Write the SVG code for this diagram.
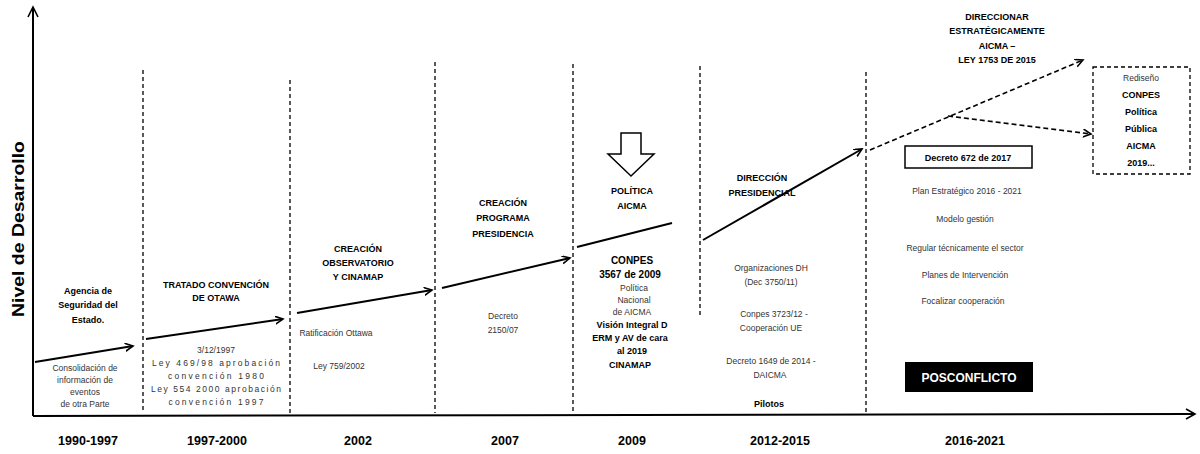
<svg xmlns="http://www.w3.org/2000/svg" width="1200" height="454" viewBox="0 0 1200 454">
<style>
.hd{font-family:"Liberation Sans",Arial,sans-serif;font-weight:bold;font-size:9px;fill:#000;text-anchor:middle}
.sm{font-family:"Liberation Sans",Arial,sans-serif;font-size:8.5px;fill:#333;text-anchor:middle}
.yr{font-family:"Liberation Sans",Arial,sans-serif;font-weight:bold;font-size:12.5px;fill:#000;text-anchor:middle}
.bd{font-family:"Liberation Sans",Arial,sans-serif;font-weight:bold;font-size:10px;fill:#000;text-anchor:middle}
.vd{stroke:#000;stroke-width:1.3;stroke-dasharray:4 3;fill:none}
.ar{stroke:#000;stroke-width:2;fill:none}
.da{stroke:#000;stroke-width:1.6;stroke-dasharray:5 3;fill:none}
</style>
<defs>
<marker id="ah" markerWidth="10" markerHeight="10" refX="8" refY="4" orient="auto" markerUnits="userSpaceOnUse">
<path d="M0,0 L8,4 L0,8" fill="none" stroke="#000" stroke-width="1.6"/>
</marker>
</defs>
<rect width="1200" height="454" fill="#fff"/>
<g id="axes">
<line x1="33" y1="416" x2="33" y2="8" stroke="#000" stroke-width="2"/>
<path d="M28,17 L33,7 L38,17" fill="none" stroke="#000" stroke-width="1.6"/>
<line x1="33" y1="416" x2="1194" y2="414" stroke="#000" stroke-width="2"/>
<path d="M1186,409 L1195,414 L1186,419" fill="none" stroke="#000" stroke-width="1.6"/>
<text transform="translate(24,229) rotate(-90)" font-family="Liberation Sans,Arial,sans-serif" font-weight="bold" font-size="16" text-anchor="middle" textLength="176" lengthAdjust="spacingAndGlyphs">Nivel de Desarrollo</text>
</g>
<g id="dividers">
<line class="vd" x1="143" y1="70" x2="143" y2="413"/>
<line class="vd" x1="290" y1="80" x2="290" y2="413"/>
<line class="vd" x1="435" y1="62" x2="435" y2="413"/>
<line class="vd" x1="573" y1="64" x2="573" y2="413"/>
<line class="vd" x1="700" y1="66" x2="700" y2="318"/>
<line class="vd" x1="866" y1="72" x2="866" y2="413"/>
</g>
<g id="years">
<text class="yr" x="88" y="445">1990-1997</text>
<text class="yr" x="217" y="445">1997-2000</text>
<text class="yr" x="358" y="445">2002</text>
<text class="yr" x="505" y="445">2007</text>
<text class="yr" x="632" y="445">2009</text>
<text class="yr" x="780" y="445">2012-2015</text>
<text class="yr" x="975" y="445">2016-2021</text>
</g>
<g id="connectors">
<line class="ar" x1="35" y1="362" x2="133" y2="346" marker-end="url(#ah)"/>
<line class="ar" x1="146" y1="339" x2="283" y2="319" marker-end="url(#ah)"/>
<line class="ar" x1="297" y1="313" x2="432" y2="290" marker-end="url(#ah)"/>
<line class="ar" x1="442" y1="288" x2="570" y2="258" marker-end="url(#ah)"/>
<line class="ar" x1="577" y1="247" x2="672" y2="223"/>
<line class="ar" x1="703" y1="240" x2="862" y2="149" marker-end="url(#ah)"/>
<line class="da" x1="870" y1="150" x2="1083" y2="60" marker-end="url(#ah)"/>
<line class="da" x1="948" y1="116" x2="1091" y2="134" marker-end="url(#ah)"/>
</g>
<g id="n1990">
<text class="hd" x="88" y="294">Agencia de</text>
<text class="hd" x="88" y="308">Seguridad del</text>
<text class="hd" x="88" y="323">Estado.</text>
<text class="sm" x="85" y="371">Consolidación de</text>
<text class="sm" x="85" y="383">información de</text>
<text class="sm" x="85" y="395">eventos</text>
<text class="sm" x="85" y="407">de otra Parte</text>
</g>
<g id="n1997">
<text class="hd" x="216" y="288">TRATADO CONVENCIÓN</text>
<text class="hd" x="216" y="301">DE OTAWA</text>
<text class="sm" x="216" y="353">3/12/1997</text>
<text class="sm" x="216" y="366" font-size="9.5" textLength="128" lengthAdjust="spacing">Ley 469/98 aprobación</text>
<text class="sm" x="216" y="379" font-size="9.5" textLength="96" lengthAdjust="spacing">convención 1980</text>
<text class="sm" x="216" y="392" font-size="9.5" textLength="130" lengthAdjust="spacing">Ley 554 2000 aprobación</text>
<text class="sm" x="216" y="405" font-size="9.5" textLength="95" lengthAdjust="spacing">convención 1997</text>
</g>
<g id="n2002">
<text class="hd" x="358" y="252">CREACIÓN</text>
<text class="hd" x="358" y="266">OBSERVATORIO</text>
<text class="hd" x="358" y="280">Y CINAMAP</text>
<text class="sm" x="336" y="336">Ratificación Ottawa</text>
<text class="sm" x="339" y="369">Ley 759/2002</text>
</g>
<g id="n2007">
<text class="hd" x="503" y="206">CREACIÓN</text>
<text class="hd" x="503" y="221">PROGRAMA</text>
<text class="hd" x="503" y="237">PRESIDENCIA</text>
<text class="sm" x="503" y="319">Decreto</text>
<text class="sm" x="503" y="333">2150/07</text>
</g>
<g id="n2009">
<path d="M621,133 L641,133 L641,154 L654,154 L631,176 L608,154 L621,154 Z" fill="#fff" stroke="#000" stroke-width="1.5"/>
<text class="hd" x="632" y="194">POLÍTICA</text>
<text class="hd" x="632" y="209">AICMA</text>
<text class="bd" x="632" y="264">CONPES</text>
<text class="bd" x="630" y="278">3567 de 2009</text>
<text class="sm" x="634" y="291">Política</text>
<text class="sm" x="634" y="303">Nacional</text>
<text class="sm" x="632" y="315">de AICMA</text>
<text class="hd" x="632" y="328">Visión Integral D</text>
<text class="hd" x="630" y="341">ERM y AV de cara</text>
<text class="hd" x="632" y="354">al 2019</text>
<text class="hd" x="630" y="368">CINAMAP</text>
</g>
<g id="n2012">
<text class="hd" x="762" y="181">DIRECCIÓN</text>
<text class="hd" x="762" y="196">PRESIDENCIAL</text>
<text class="sm" x="771" y="271">Organizaciones DH</text>
<text class="sm" x="771" y="285">(Dec 3750/11)</text>
<text class="sm" x="774" y="317">Conpes 3723/12 -</text>
<text class="sm" x="771" y="331">Cooperación UE</text>
<text class="sm" x="771" y="364">Decreto 1649 de 2014 -</text>
<text class="sm" x="770" y="378">DAICMA</text>
<text class="hd" x="769" y="407">Pilotos</text>
</g>
<g id="n2016">
<text class="hd" x="997" y="20">DIRECCIONAR</text>
<text class="hd" x="997" y="34">ESTRATÉGICAMENTE</text>
<text class="hd" x="997" y="49">AICMA –</text>
<text class="hd" x="997" y="63">LEY 1753 DE 2015</text>
<rect x="905" y="146" width="127" height="22" fill="#fff" stroke="#000" stroke-width="1.5"/>
<text class="hd" x="968" y="161">Decreto 672 de 2017</text>
<text class="sm" x="967" y="194">Plan Estratégico 2016 - 2021</text>
<text class="sm" x="965" y="222">Modelo gestión</text>
<text class="sm" x="965" y="251">Regular técnicamente el sector</text>
<text class="sm" x="965" y="278">Planes de Intervención</text>
<text class="sm" x="963" y="304">Focalizar cooperación</text>
<rect x="905" y="362" width="128" height="30" fill="#000"/>
<text x="969" y="382" font-family="Liberation Sans,Arial,sans-serif" font-weight="bold" font-size="12" fill="#fff" text-anchor="middle">POSCONFLICTO</text>
</g>
<g id="n2019">
<rect x="1093" y="67" width="97" height="107" fill="none" stroke="#000" stroke-width="1.3" stroke-dasharray="4 3"/>
<text class="sm" x="1141" y="81">Rediseño</text>
<text class="hd" x="1141" y="98">CONPES</text>
<text class="hd" x="1141" y="115">Política</text>
<text class="hd" x="1141" y="132">Pública</text>
<text class="hd" x="1141" y="149">AICMA</text>
<text class="hd" x="1141" y="166">2019...</text>
</g>
</svg>
